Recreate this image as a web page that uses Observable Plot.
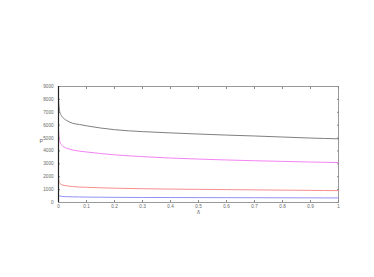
<!DOCTYPE html>
<html>
<head>
<meta charset="utf-8">
<script src="https://cdn.jsdelivr.net/npm/d3@7"></script>
<script src="https://cdn.jsdelivr.net/npm/@observablehq/plot@0.6"></script>
<style>
  html, body { margin: 0; padding: 0; background: #fff; }
  #chart svg { display: block; }
</style>
</head>
<body>
<div id="chart"></div>
<script>
const deltas = [0, 0.002, 0.005, 0.01, 0.02, 0.03, 0.05, 0.075, 0.1, 0.15, 0.2, 0.3, 0.4, 0.5, 0.6, 0.7, 0.8, 0.9, 1.0];
const series1P = [8000, 7400, 7000, 6750, 6500, 6350, 6150, 6050, 5950, 5780, 5650, 5500, 5400, 5310, 5230, 5160, 5080, 5000, 4940];
const series2P = [5800, 5000, 4700, 4500, 4300, 4200, 4080, 3980, 3920, 3800, 3700, 3560, 3450, 3370, 3300, 3240, 3190, 3140, 3100];
const series3P = [1900, 1600, 1480, 1400, 1330, 1290, 1240, 1200, 1180, 1140, 1110, 1070, 1040, 1020, 1000, 980, 960, 940, 920];
const series4P = [620, 540, 500, 480, 460, 450, 440, 430, 420, 410, 400, 390, 385, 380, 375, 370, 365, 360, 355];
const seriesNames = ["S1", "S2", "S3", "S4"];
const seriesColors = ["#707070", "#f075f0", "#f58080", "#8585f2"];
const xTicks = [0, 0.1, 0.2, 0.3, 0.4, 0.5, 0.6, 0.7, 0.8, 0.9, 1];
const yTicks = [0, 1000, 2000, 3000, 4000, 5000, 6000, 7000, 8000, 9000];

const allSeries = [series1P, series2P, series3P, series4P];
const rows = [];
allSeries.forEach((vals, si) => {
  vals.forEach((v, i) => rows.push({s: seriesNames[si], x: deltas[i], y: v}));
});

const plot = Plot.plot({
  width: 374,
  height: 277,
  marginLeft: 58,
  marginRight: 36,
  marginTop: 86,
  marginBottom: 75,
  style: {fontFamily: "Liberation Sans, Arial, sans-serif", fontSize: "4.6px", color: "#555", background: "#fff"},
  x: {domain: [0, 1], label: null},
  y: {domain: [0, 9000], label: null},
  color: {type: "ordinal", domain: seriesNames, range: seriesColors},
  marks: [
    Plot.frame({stroke: "#999", strokeWidth: 1}),
    Plot.axisX(xTicks, {anchor: "bottom", tickSize: 0, tickPadding: 2, label: null, tickFormat: d => String(d), fill: "#666"}),
    Plot.axisX(xTicks, {anchor: "bottom", tickSize: -2, text: null, label: null, stroke: "#888"}),
    Plot.axisX(xTicks, {anchor: "top", tickSize: -2, text: null, label: null, stroke: "#888"}),
    Plot.axisY(yTicks, {anchor: "left", tickSize: 0, tickPadding: 5, label: null, tickFormat: d => String(d), fill: "#666"}),
    Plot.axisY(yTicks, {anchor: "left", tickSize: -2, text: null, label: null, stroke: "#888"}),
    Plot.axisY(yTicks, {anchor: "right", tickSize: -2, text: null, label: null, stroke: "#888"}),
    Plot.line(rows, {x: "x", y: "y", z: "s", stroke: "s", strokeWidth: 0.9, curve: "monotone-x"}),
    Plot.ruleX([0], {stroke: "#222", strokeWidth: 1.2}),
    Plot.text(["δ"], {frameAnchor: "bottom", dy: 11, fontSize: 5.5, fill: "#666"}),
    Plot.text(["P"], {frameAnchor: "left", dx: -19, dy: -3, fontSize: 5.5, fill: "#666"})
  ]
});
document.getElementById("chart").append(plot);
</script>
</body>
</html>
